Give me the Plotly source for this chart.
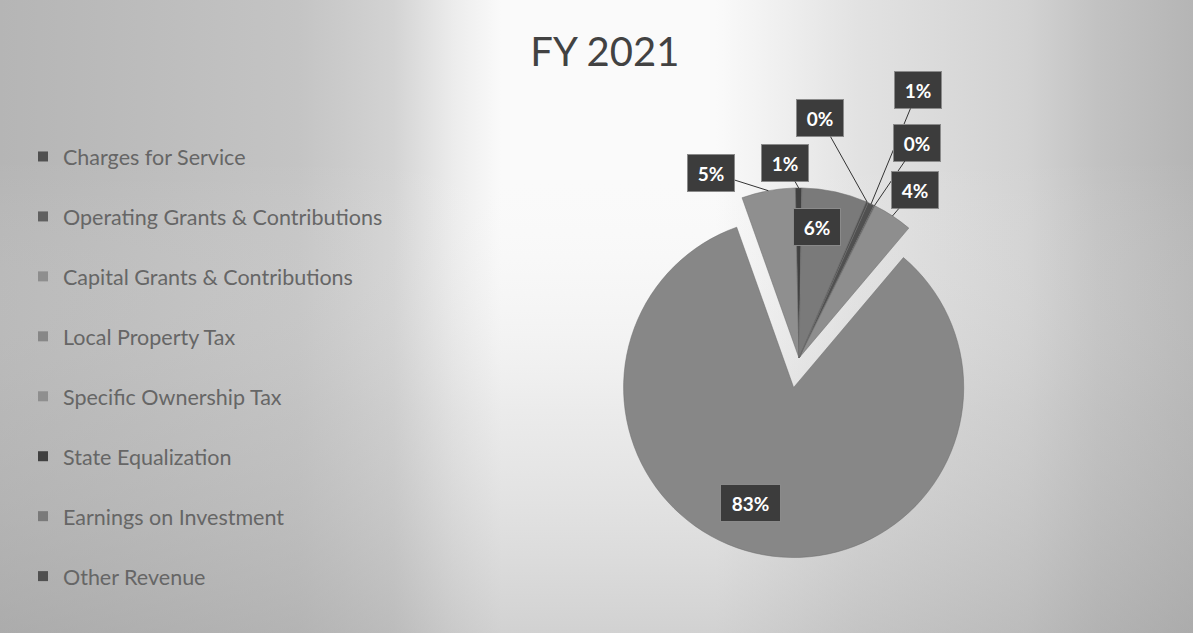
import math
import plotly.graph_objects as go

# ---------------- data ----------------
categories = [
    "Charges for Service",
    "Operating Grants & Contributions",
    "Capital Grants & Contributions",
    "Local Property Tax",
    "Specific Ownership Tax",
    "State Equalization",
    "Earnings on Investment",
    "Other Revenue",
]
values = [0.6, 0.1, 3.8, 83.4, 5.1, 0.6, 6.2, 0.2]
chart_title = "FY 2021"

# ---------------- styles ----------------
colors = ["#505050", "#606060", "#8e8e8e", "#878787",
          "#8f8f8f", "#404040", "#7a7a7a", "#505050"]
pulls = [0, 0, 0, 0.176, 0, 0, 0, 0]
rotation = 24
W, H = 1193, 633
dom_x = [0.5021, 0.8374]
dom_y = [0.1185, 0.7504]
# label placement per slice: ("out", ax, ay) leader-line offsets in px,
# or ("in", radius fraction, x shift px)
label_style = [
    ("out", 47, -114),
    ("out", 43, -63),
    ("out", 22, -26),
    ("in", 0.69, -22),
    ("out", -57, -18),
    ("out", -14, -25),
    ("in", 0.79, -10),
    ("out", -47, -84),
]

fig = go.Figure()

# background (scanned-paper shading)
fig.add_trace(go.Scatter(
    x=[0, 1, 1, 0, 0], y=[0, 0, 1, 1, 0], mode="lines", fill="toself",
    line=dict(width=0), hoverinfo="skip", showlegend=False,
    fillgradient=dict(type="horizontal", colorscale=[
        [0.0, "#b5b5b5"], [0.25, "#c4c4c4"], [0.33, "#d3d3d3"],
        [0.38, "#ececec"], [0.42, "#fafafa"], [0.6, "#fafafa"],
        [0.72, "#e2e2e2"], [0.86, "#d2d2d2"], [0.92, "#c2c2c2"],
        [1.0, "#b5b5b5"]])))
fig.add_trace(go.Scatter(
    x=[0, 1, 1, 0, 0], y=[0, 0, 1, 1, 0], mode="lines", fill="toself",
    line=dict(width=0), hoverinfo="skip", showlegend=False,
    fillgradient=dict(type="vertical", colorscale=[
        [0.0, "rgba(160,160,160,0.45)"], [0.35, "rgba(190,190,190,0.25)"],
        [0.75, "rgba(255,255,255,0.0)"], [1.0, "rgba(255,255,255,0.0)"]])))

# legend entries
for cat, col in zip(categories, colors):
    fig.add_trace(go.Scatter(
        x=[None], y=[None], mode="markers", name=cat, legendgroup=cat,
        marker=dict(symbol="square", size=10, color=col), showlegend=True))

# pie
fig.add_trace(go.Pie(
    labels=categories, values=values, sort=False, direction="clockwise",
    rotation=rotation, pull=pulls, textinfo="none", showlegend=False,
    marker=dict(colors=colors, line=dict(color="#6a6a6a", width=0.5)),
    domain=dict(x=dom_x, y=dom_y)))

# percentage labels
total = sum(values)
pw = W * (dom_x[1] - dom_x[0])
ph = H * (dom_y[1] - dom_y[0])
r = min(pw, ph) / 2 / (1 + max(pulls))
cx = W * (dom_x[0] + dom_x[1]) / 2
cy = H * (1 - (dom_y[0] + dom_y[1]) / 2)

annotations = []
acc = 0.0
for v, p, st in zip(values, pulls, label_style):
    mid = math.radians(rotation + 360 * (acc + v / 2) / total)
    acc += v
    txt = f"{round(100 * v / total)}%"
    ox = p * r * math.sin(mid)
    oy = -p * r * math.cos(mid)
    common = dict(text=txt, xref="paper", yref="paper",
                  xanchor="center", yanchor="middle",
                  font=dict(family="Lato", size=19, color="white", weight="bold"),
                  bgcolor="#3c3c3c", bordercolor="#8a8a8a", borderwidth=1,
                  borderpad=5, width=13 * len(txt) + 10, height=26)
    if st[0] == "in":
        px = cx + ox + st[1] * r * math.sin(mid) + st[2]
        py = cy + oy - st[1] * r * math.cos(mid)
        annotations.append(dict(x=px / W, y=1 - py / H, showarrow=False, **common))
    else:
        px = cx + ox + r * math.sin(mid)
        py = cy + oy - r * math.cos(mid)
        annotations.append(dict(x=px / W, y=1 - py / H, showarrow=True,
                                ax=st[1], ay=st[2], arrowhead=0, arrowwidth=1,
                                arrowcolor="#333333", **common))

fig.update_layout(
    width=W, height=H,
    margin=dict(l=0, r=0, t=0, b=0),
    paper_bgcolor="#ffffff", plot_bgcolor="rgba(0,0,0,0)",
    xaxis=dict(visible=False, range=[0, 1], domain=[0, 1], fixedrange=True),
    yaxis=dict(visible=False, range=[0, 1], domain=[0, 1], fixedrange=True),
    title=dict(text=chart_title, x=0.507, xanchor="center", y=1 - 52 / H,
               yanchor="middle", font=dict(family="Lato", size=40, color="#424242")),
    legend=dict(x=23 / W, xanchor="left", y=1 - 136 / H, yanchor="top",
                font=dict(family="Lato", size=21.5, color="#666666"),
                tracegroupgap=29, bgcolor="rgba(0,0,0,0)"),
    annotations=annotations,
    hovermode=False,
)

fig.write_html("out.html")
